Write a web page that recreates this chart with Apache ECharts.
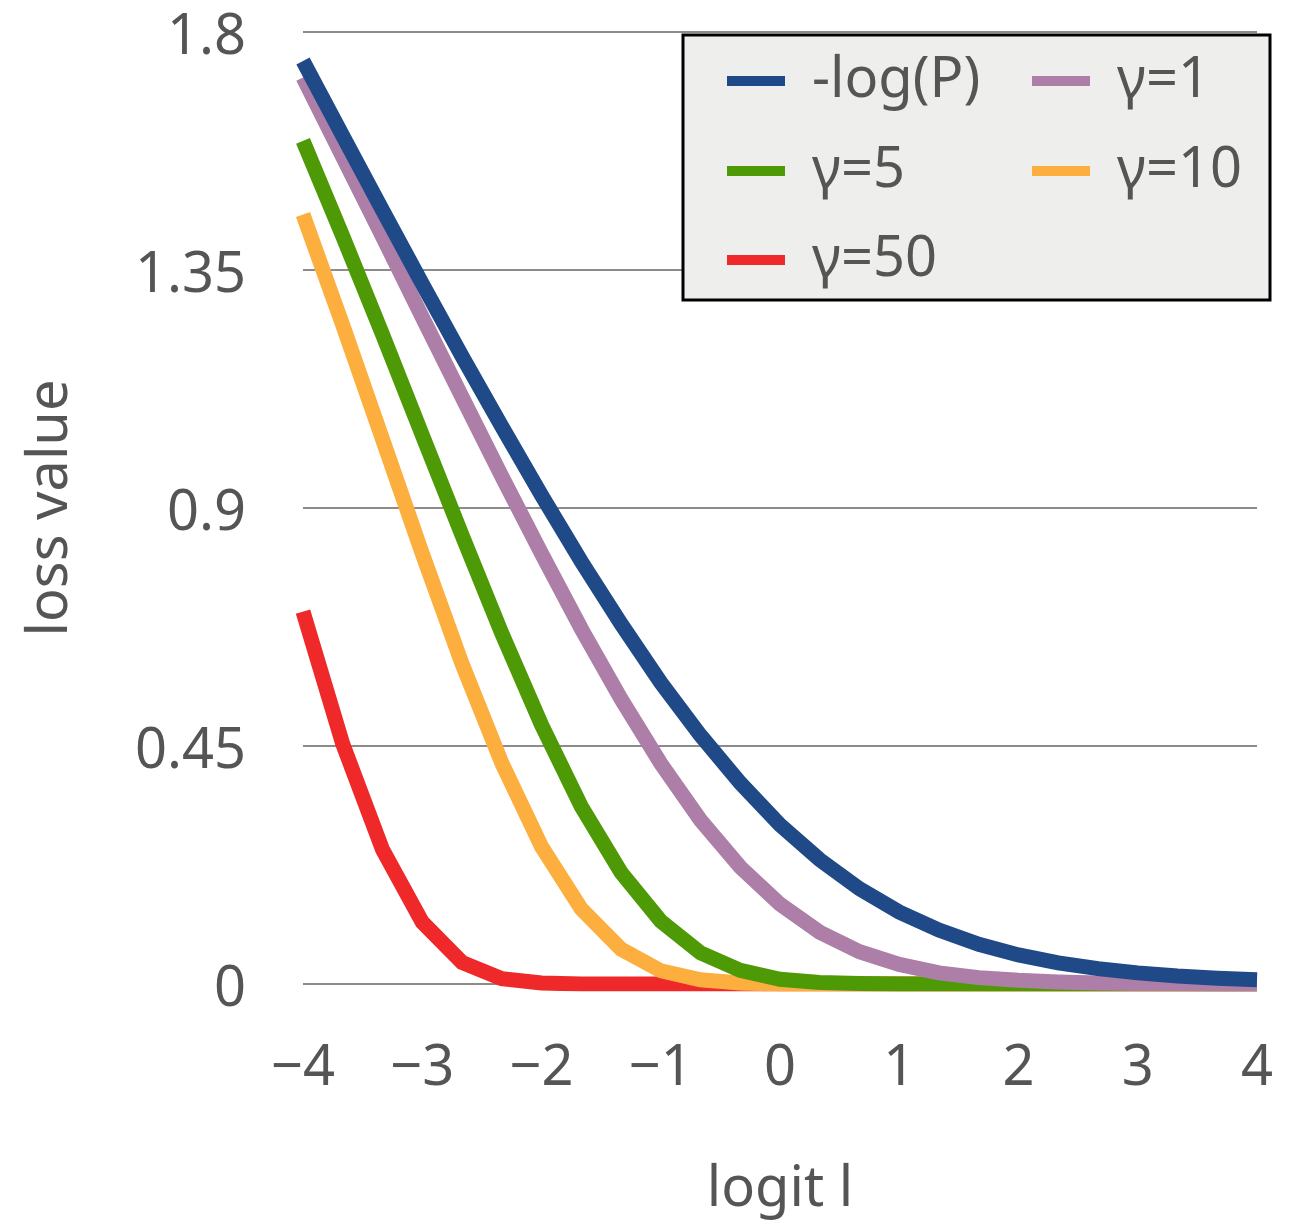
<!DOCTYPE html>
<html>
<head>
<meta charset="utf-8">
<script src="https://cdn.jsdelivr.net/npm/echarts@6/dist/echarts.min.js"></script>
<style>
  html, body { margin: 0; padding: 0; background: #fff; }
  #main { width: 1301px; height: 1223px; }
</style>
</head>
<body>
<div id="main"></div>
<script>
// logit values (step 1/3)
var logit = [-4, -3.667, -3.333, -3, -2.667, -2.333, -2, -1.667, -1.333, -1, -0.667, -0.333,
  0, 0.333, 0.667, 1, 1.333, 1.667, 2, 2.333, 2.667, 3, 3.333, 3.667, 4];
var lossLogP = [1.745, 1.604, 1.463, 1.324, 1.187, 1.054, 0.924, 0.799, 0.681, 0.570, 0.470, 0.380,
  0.301, 0.235, 0.180, 0.136, 0.102, 0.075, 0.055, 0.040, 0.029, 0.021, 0.015, 0.011, 0.008];
var lossG1 = [1.714, 1.564, 1.413, 1.261, 1.110, 0.960, 0.814, 0.672, 0.539, 0.417, 0.310, 0.221,
  0.151, 0.098, 0.061, 0.037, 0.021, 0.012, 0.007, 0.004, 0.002, 0.001, 0.001, 0, 0];
var lossG5 = [1.594, 1.414, 1.228, 1.038, 0.849, 0.663, 0.490, 0.336, 0.211, 0.119, 0.059, 0.026,
  0.009, 0.003, 0.001, 0, 0, 0, 0, 0, 0, 0, 0, 0, 0];
var lossG10 = [1.455, 1.246, 1.030, 0.814, 0.606, 0.418, 0.260, 0.142, 0.066, 0.025, 0.008, 0.002,
  0, 0, 0, 0, 0, 0, 0, 0, 0, 0, 0, 0, 0];
var lossG50 = [0.704, 0.454, 0.254, 0.117, 0.041, 0.010, 0.002, 0, 0, 0, 0, 0,
  0, 0, 0, 0, 0, 0, 0, 0, 0, 0, 0, 0, 0];
var xTicks = ['−4', '−3', '−2', '−1', '0', '1', '2', '3', '4'];
var yTicks = ['0', '0.45', '0.9', '1.35', '1.8'];

var names = ['-log(P)', 'γ=1', 'γ=5', 'γ=10', 'γ=50'];
var colors = ['#204a87', '#ad7fa8', '#4e9a06', '#fcaf3e', '#ef2929'];
var lists = [lossLogP, lossG1, lossG5, lossG10, lossG50];

var font = 'Noto Sans';
var grey = '#555555';

function pairs(ys) {
  var out = [];
  for (var i = 0; i < logit.length; i++) out.push([logit[i], ys[i]]);
  return out;
}

// draw order: red at bottom, blue on top
var series = [];
for (var k = lists.length - 1; k >= 0; k--) {
  series.push({
    name: names[k],
    type: 'line',
    data: pairs(lists[k]),
    showSymbol: false,
    symbol: 'none',
    smooth: false,
    color: colors[k],
    lineStyle: { width: 15, color: colors[k], cap: 'butt', join: 'miter' },
    emphasis: { disabled: true },
    animation: false
  });
}

// legend: one component per item so the two columns line up
var legendPos = [[722, 76], [1027, 76], [722, 166], [1027, 166], [722, 255]];
var legends = [];
for (var j = 0; j < names.length; j++) {
  legends.push({
    data: [{ name: names[j], icon: 'rect' }],
    left: legendPos[j][0],
    top: legendPos[j][1] - 30,
    itemWidth: 58,
    itemHeight: 10,
    selectedMode: false,
    z: 20,
    textStyle: { fontFamily: font, fontSize: 56, color: grey, lineHeight: 60, padding: [0, 0, 0, 22] }
  });
}

var myChart = echarts.init(document.getElementById('main'));
var option = {
  backgroundColor: '#ffffff',
  animation: false,
  grid: { left: 303, right: 44, top: 32, bottom: 237, containLabel: false },
  legend: legends,
  graphic: [{
    type: 'rect',
    z: 15,
    shape: { x: 683, y: 35, width: 587, height: 265 },
    style: { fill: '#eeeeec', stroke: '#000000', lineWidth: 3 }
  }],
  xAxis: {
    type: 'value',
    min: -4,
    max: 4,
    interval: 1,
    name: 'logit l',
    nameLocation: 'middle',
    nameGap: 178,
    nameTextStyle: { fontFamily: font, fontSize: 56, color: grey },
    axisLine: { show: false },
    axisTick: { show: false },
    splitLine: { show: false },
    axisLabel: {
      margin: 57,
      fontFamily: font,
      fontSize: 56,
      color: grey,
      formatter: function (v) { return xTicks[Math.round(v) + 4]; }
    }
  },
  yAxis: {
    type: 'value',
    min: 0,
    max: 1.8,
    interval: 0.45,
    name: 'loss value',
    nameLocation: 'middle',
    nameGap: 224,
    nameTextStyle: { fontFamily: font, fontSize: 56, color: grey },
    axisLine: { show: false },
    axisTick: { show: false },
    splitLine: { show: true, lineStyle: { color: '#8c8c8c', width: 2 } },
    axisLabel: {
      margin: 57,
      formatter: function (v) { return '{t|' + yTicks[Math.round(v / 0.45)] + '}'; },
      rich: {
        t: { fontFamily: font, fontSize: 56, color: grey, padding: [12, 0, 0, 0] }
      }
    }
  },
  series: series
};
myChart.setOption(option);
</script>
</body>
</html>
